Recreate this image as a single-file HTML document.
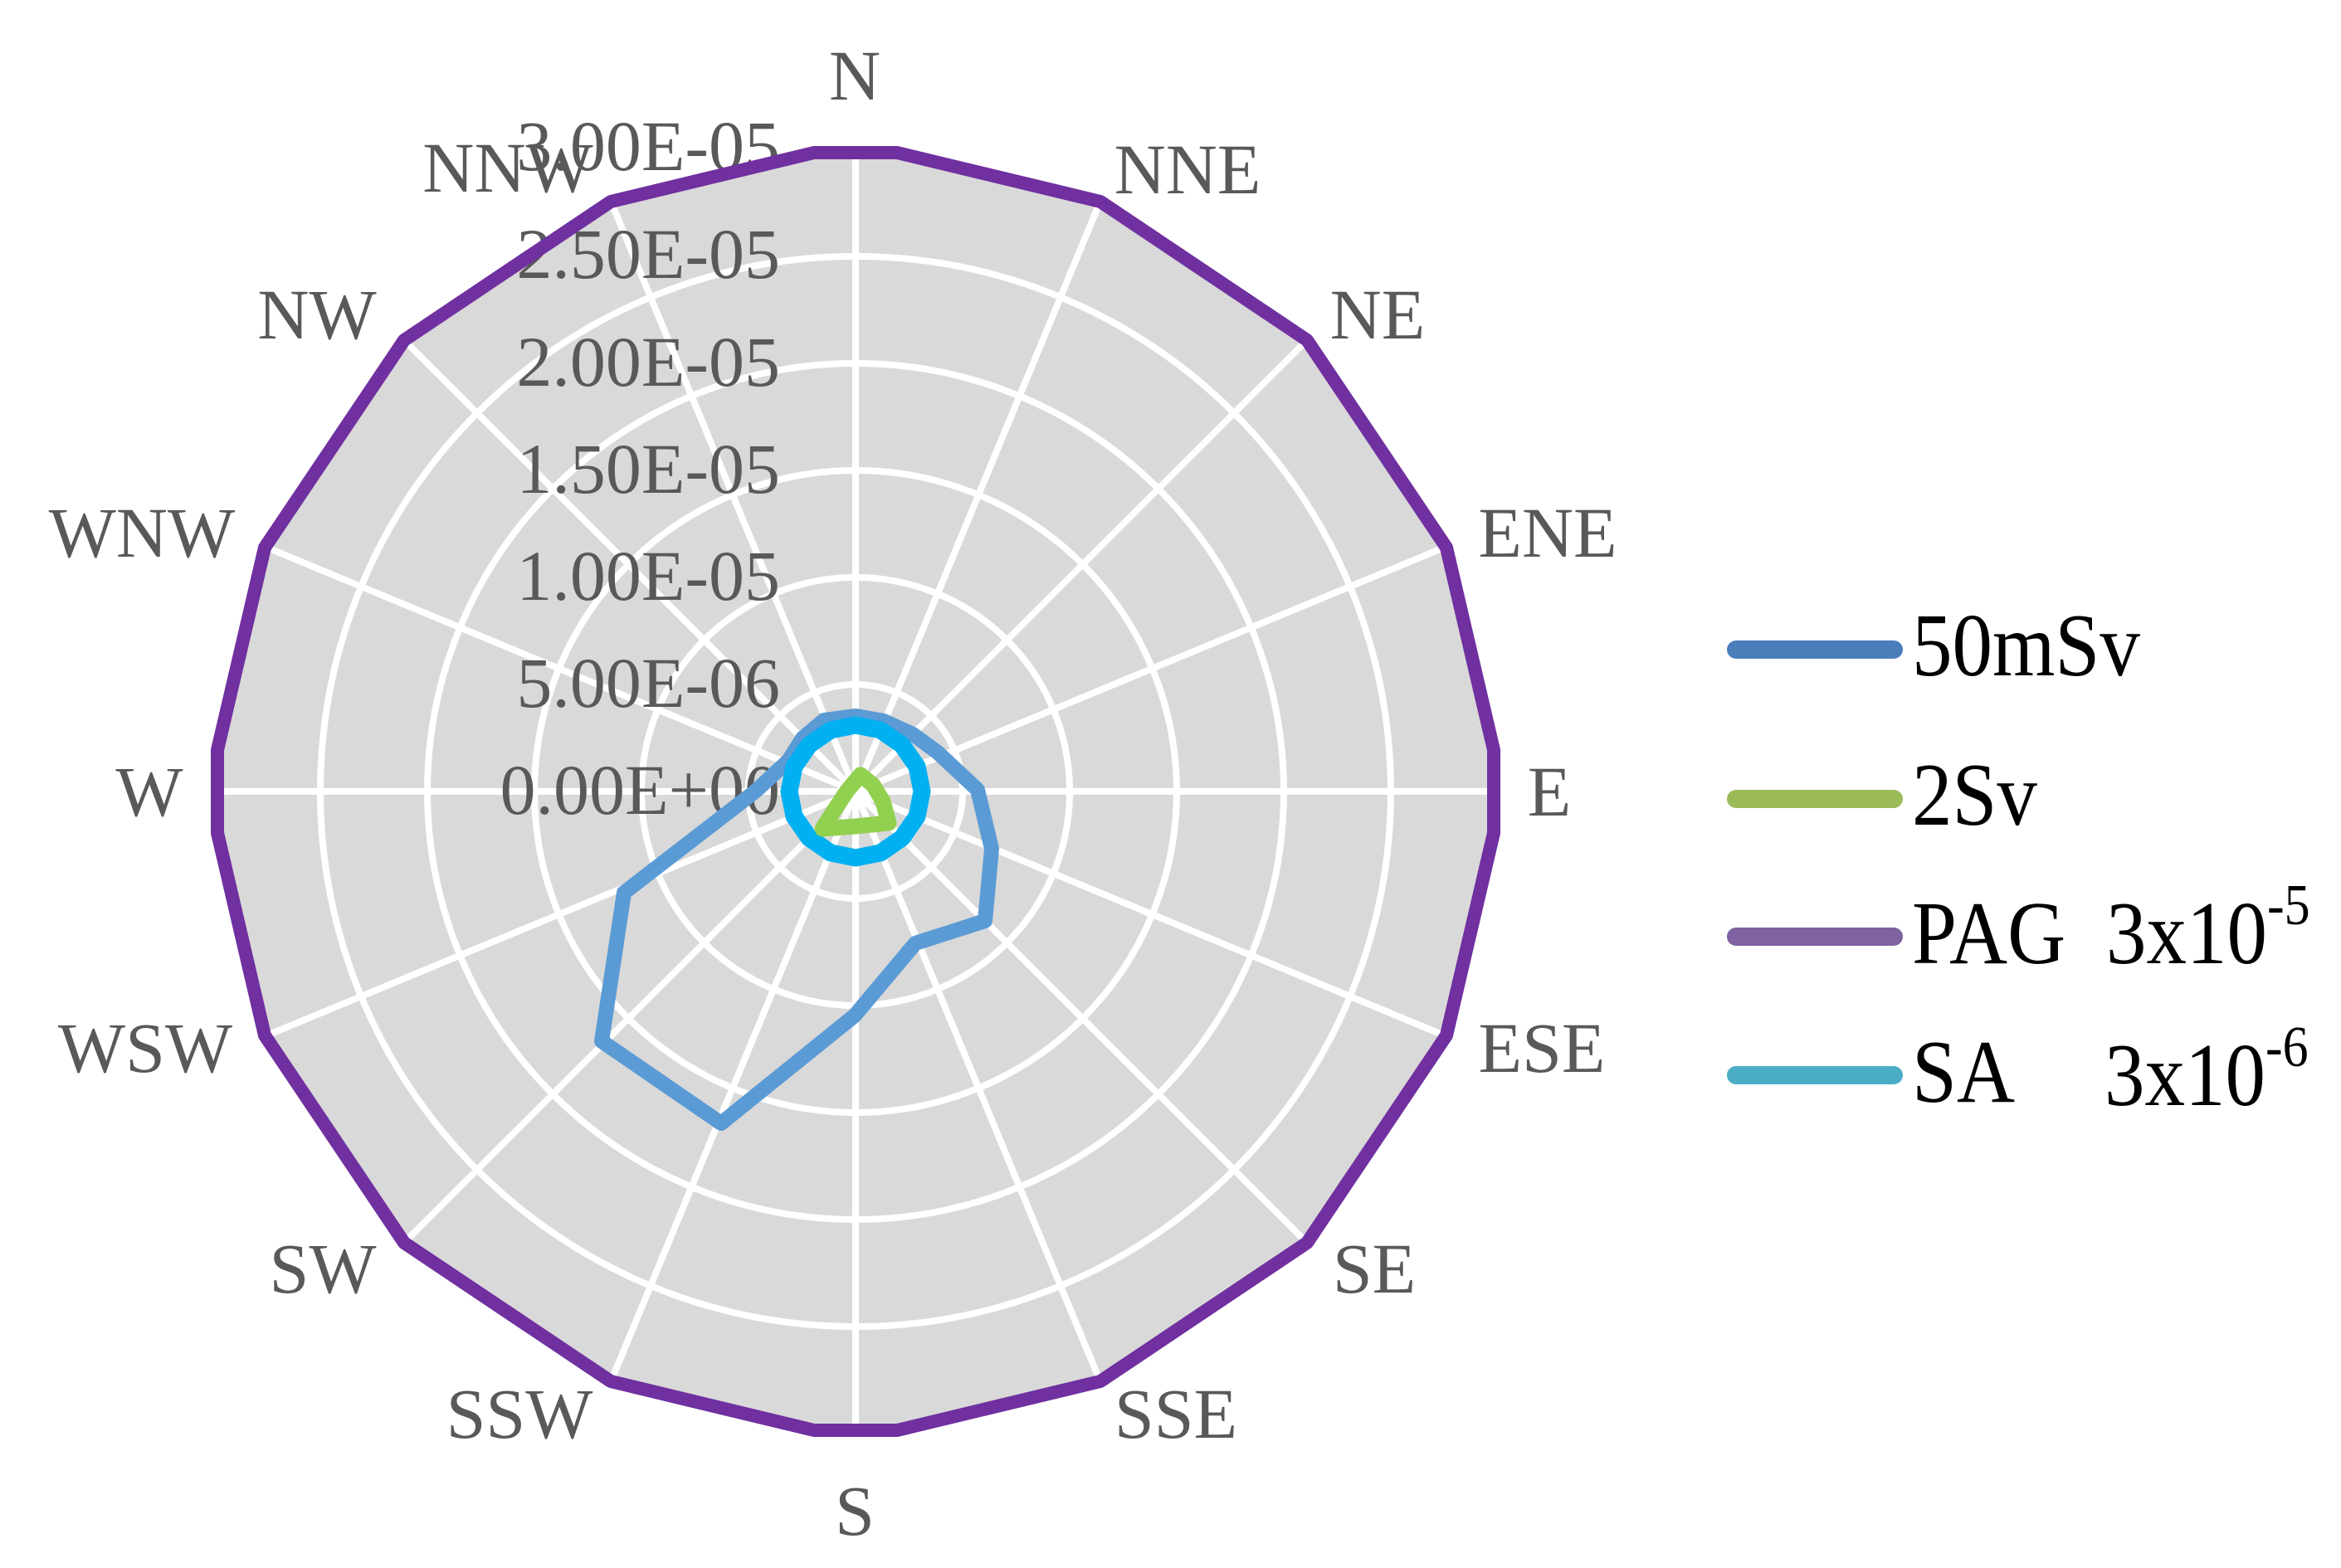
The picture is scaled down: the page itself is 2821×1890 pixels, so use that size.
<!DOCTYPE html>
<html><head><meta charset="utf-8"><style>
html,body{margin:0;padding:0;background:#fff;}
svg{display:block;}
text{font-family:"Liberation Serif",serif;}
</style></head><body>
<svg width="2821" height="1890" viewBox="0 0 2821 1890" xmlns="http://www.w3.org/2000/svg">
<defs>
<clipPath id="cp"><polygon points="981,184 1081,184 1326,243 1575,410 1743,660 1800,904 1800,1004 1743,1248 1575,1498 1326,1665 1081,1724 981,1724 736,1665 487,1498 319,1248 262,1004 262,904 319,660 487,410 736,243"/></clipPath>
</defs>
<polygon points="981,184 1081,184 1326,243 1575,410 1743,660 1800,904 1800,1004 1743,1248 1575,1498 1326,1665 1081,1724 981,1724 736,1665 487,1498 319,1248 262,1004 262,904 319,660 487,410 736,243" fill="#d9d9d9"/>
<g clip-path="url(#cp)" stroke="#fff" stroke-width="8" fill="none">
<circle cx="1031" cy="954" r="129"/><circle cx="1031" cy="954" r="258"/><circle cx="1031" cy="954" r="387"/><circle cx="1031" cy="954" r="516"/><circle cx="1031" cy="954" r="645"/><circle cx="1031" cy="954" r="774"/>
<line x1="1031" y1="954" x2="1031" y2="150"/><line x1="1031" y1="954" x2="1031" y2="1760"/>
<line x1="1031" y1="954" x2="1835" y2="954"/><line x1="1031" y1="954" x2="227" y2="954"/>
<line x1="1031" y1="954" x2="1339" y2="211"/><line x1="1031" y1="954" x2="723" y2="1697"/>
<line x1="1031" y1="954" x2="1600" y2="385"/><line x1="1031" y1="954" x2="462" y2="1523"/>
<line x1="1031" y1="954" x2="1774" y2="646"/><line x1="1031" y1="954" x2="288" y2="1262"/>
<line x1="1031" y1="954" x2="1774" y2="1262"/><line x1="1031" y1="954" x2="288" y2="646"/>
<line x1="1031" y1="954" x2="1600" y2="1523"/><line x1="1031" y1="954" x2="462" y2="385"/>
<line x1="1031" y1="954" x2="1339" y2="1697"/><line x1="1031" y1="954" x2="723" y2="211"/>
</g>
<g fill="#595959" font-size="86" text-anchor="end">
<text x="940" y="205">3.00E-05</text>
<text x="940" y="335">2.50E-05</text>
<text x="940" y="465">2.00E-05</text>
<text x="940" y="594">1.50E-05</text>
<text x="940" y="723">1.00E-05</text>
<text x="940" y="852">5.00E-06</text>
<text x="940" y="981">0.00E+00</text>
</g>
<g fill="#595959" font-size="86" text-anchor="middle">
<text x="1030" y="120">N</text>
<text x="1431" y="233">NNE</text>
<text x="1660" y="408">NE</text>
<text x="1865" y="671">ENE</text>
<text x="1867" y="983">E</text>
<text x="1858" y="1292">ESE</text>
<text x="1656" y="1558">SE</text>
<text x="1417" y="1733">SSE</text>
<text x="1030" y="1850">S</text>
<text x="626" y="1733">SSW</text>
<text x="389" y="1558">SW</text>
<text x="175" y="1292">WSW</text>
<text x="180" y="983">W</text>
<text x="171" y="671">WNW</text>
<text x="382" y="408">NW</text>
<text x="612" y="231">NNW</text>
</g>
<polygon points="981,184 1081,184 1326,243 1575,410 1743,660 1800,904 1800,1004 1743,1248 1575,1498 1326,1665 1081,1724 981,1724 736,1665 487,1498 319,1248 262,1004 262,904 319,660 487,410 736,243" fill="none" stroke="#7030a0" stroke-width="16" stroke-linejoin="round"/>
<polygon points="1031,863 1065,869 1100,885 1130,907 1178,952 1195,1023 1187,1110 1103,1137 1030,1224 869,1354 725,1255 752,1076 910,954 950,917 967,890 993,868" fill="none" stroke="#5b9bd5" stroke-width="18" stroke-linejoin="round"/>
<polygon points="1031,874 1061,880 1087,898 1105,924 1111,954 1105,984 1087,1010 1061,1028 1031,1034 1001,1028 975,1010 957,984 951,954 957,924 975,898 1001,880" fill="none" stroke="#00b0f0" stroke-width="21" stroke-linejoin="round"/>
<polygon points="1037,934 1052,946 1064,966 1071,992 1031,996 991,999 1005,977 1021,953" fill="none" stroke="#92d050" stroke-width="19" stroke-linejoin="round"/>
<g stroke-width="22" stroke-linecap="round">
<line x1="2092" y1="783" x2="2282" y2="783" stroke="#4a7ebb"/>
<line x1="2092" y1="963" x2="2282" y2="963" stroke="#9bbb59"/>
<line x1="2092" y1="1129" x2="2282" y2="1129" stroke="#7f62a1"/>
<line x1="2092" y1="1296" x2="2282" y2="1296" stroke="#4bacc6"/>
</g>
<g fill="#000" font-size="97">
<text transform="translate(2304,814) scale(1,1.12)">50mSv</text>
<text transform="translate(2304,994) scale(1,1.12)">2Sv</text>
<text transform="translate(2304,1161) scale(1,1.12)">PAG</text>
<text transform="translate(2538,1161) scale(1,1.12)">3x10<tspan font-size="62" dy="-42">-5</tspan></text>
<text transform="translate(2304,1328) scale(1,1.12)">SA</text>
<text transform="translate(2536,1332) scale(1,1.12)">3x10<tspan font-size="62" dy="-42">-6</tspan></text>
</g>
</svg>
</body></html>
